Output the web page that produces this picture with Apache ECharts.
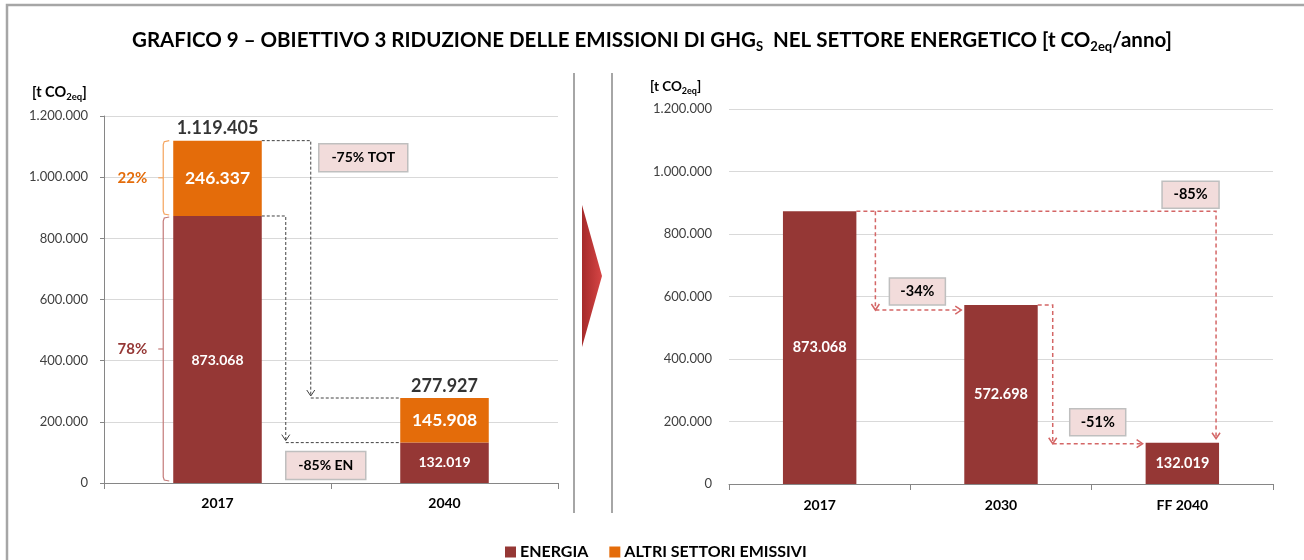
<!DOCTYPE html>
<html><head><meta charset="utf-8">
<script src="https://cdn.jsdelivr.net/npm/echarts@6/dist/echarts.min.js"></script>
<style>html,body{margin:0;padding:0;background:#fff}#c{width:1304px;height:560px}</style>
</head><body><div id="c"></div>
<script>
// ---- data ----
const leftCategories = ['2017', '2040'];
const leftEnergia = [873068, 132019];
const leftAltri = [246337, 145908];
const leftTotals = [1119405, 277927];
const leftShares = ['78%', '22%'];
const leftReductions = ['-75% TOT', '-85% EN'];
const rightCategories = ['2017', '2030', 'FF 2040'];
const rightEnergia = [873068, 572698, 132019];
const rightReductions = ['-34%', '-51%', '-85%'];
const yMin = 0, yMax = 1200000, yStep = 200000;
const legendNames = ['ENERGIA', 'ALTRI SETTORI EMISSIVI'];

const F = "Lato, 'Open Sans', sans-serif";
const C_EN = '#953735', C_AL = '#E46C0A';
const fmt = v => String(v).replace(/\B(?=(\d{3})+(?!\d))/g, '.');

const chart = echarts.init(document.getElementById('c'));
const subRich = {
  m: { fontFamily: F, fontWeight: 'bold', fontSize: 20.5, color: '#000', lineHeight: 26, verticalAlign: 'middle' },
  s: { fontFamily: F, fontWeight: 'bold', fontSize: 13, color: '#000', lineHeight: 13, verticalAlign: 'bottom' }
};
const unitRich = (a, b) => ({
  m: { fontFamily: F, fontWeight: 'bold', fontSize: a, color: '#000', lineHeight: a + 4, verticalAlign: 'middle' },
  s: { fontFamily: F, fontWeight: 'bold', fontSize: b, color: '#000', lineHeight: b, verticalAlign: 'bottom' }
});

const yAxisBase = {
  type: 'value', min: yMin, max: yMax, interval: yStep,
  axisLabel: { formatter: fmt, color: '#404040', fontSize: 13, fontFamily: F },
  splitLine: { lineStyle: { color: '#d9d9d9' } }
};
const xAxisBase = {
  type: 'category',
  axisLine: { lineStyle: { color: '#868686' } },
  axisTick: { show: true, length: 6, lineStyle: { color: '#868686' } },
  axisLabel: { color: '#000', fontWeight: 'bold', fontSize: 14, fontFamily: F, margin: 13 }
};

chart.setOption({
  animation: false,
  title: {
    text: '{m|GRAFICO 9 – OBIETTIVO 3 RIDUZIONE DELLE EMISSIONI DI GHG}{s|S}{m|  NEL SETTORE ENERGETICO [t CO}{s|2eq}{m|/anno]}',
    left: 'center', top: 22, textStyle: { rich: subRich }
  },
  legend: {
    data: legendNames, left: 500, top: 539, icon: 'rect', itemWidth: 11, itemHeight: 11, itemGap: 21,
    textStyle: { fontFamily: F, fontWeight: 'bold', fontSize: 16, color: '#000', padding: [0, 0, 0, -1] }
  },
  grid: [
    { left: 104, right: 746, top: 116, bottom: 77 },
    { left: 729, right: 31, top: 109, bottom: 76 }
  ],
  xAxis: [
    Object.assign({}, xAxisBase, { gridIndex: 0, data: leftCategories }),
    Object.assign({}, xAxisBase, { gridIndex: 1, data: rightCategories, axisLabel: Object.assign({}, xAxisBase.axisLabel, { margin: 14 }) })
  ],
  yAxis: [
    Object.assign({}, yAxisBase, { gridIndex: 0, axisLine: { show: true, lineStyle: { color: '#868686' } },
      axisTick: { show: true, length: 4, lineStyle: { color: '#868686' } },
      axisLabel: Object.assign({}, yAxisBase.axisLabel, { margin: 16 }) }),
    Object.assign({}, yAxisBase, { gridIndex: 1, axisLine: { show: false }, axisTick: { show: false },
      axisLabel: Object.assign({}, yAxisBase.axisLabel, { margin: 17 }) })
  ],
  series: [
    { name: 'ENERGIA', type: 'bar', xAxisIndex: 0, yAxisIndex: 0, stack: 'L', barWidth: '39%',
      itemStyle: { color: C_EN },
      data: leftEnergia.map((v, i) => i === 0 ? { value: v, label: { offset: [0, 11] } } : v),
      label: { show: true, position: 'inside', color: '#fff', fontWeight: 'bold', fontSize: 14, fontFamily: F, formatter: p => fmt(p.value) } },
    { name: 'ALTRI SETTORI EMISSIVI', type: 'bar', xAxisIndex: 0, yAxisIndex: 0, stack: 'L', barWidth: '39%',
      itemStyle: { color: C_AL }, data: leftAltri,
      label: { show: true, position: 'inside', color: '#fff', fontWeight: 'bold', fontSize: 17.5, fontFamily: F, formatter: p => fmt(p.value) } },
    { name: 'tot', type: 'scatter', xAxisIndex: 0, yAxisIndex: 0, symbolSize: 0, silent: true, data: leftTotals,
      label: { show: true, position: 'top', distance: 3, color: '#000', fontWeight: 'bold', fontSize: 18, fontFamily: F, formatter: p => fmt(p.value) } },
    { name: 'ENERGIA', type: 'bar', xAxisIndex: 1, yAxisIndex: 1, barWidth: '40.5%',
      itemStyle: { color: C_EN }, data: rightEnergia,
      label: { show: true, position: 'inside', color: '#fff', fontWeight: 'bold', fontSize: 14.5, fontFamily: F, formatter: p => fmt(p.value) } }
  ]
});

// ---- annotations from axis conversions ----
const pL = (i, v) => chart.convertToPixel({ xAxisIndex: 0, yAxisIndex: 0 }, [i, v]);
const pR = (i, v) => chart.convertToPixel({ xAxisIndex: 1, yAxisIndex: 1 }, [i, v]);
const g = [];
const line = (pts, stroke, w, dash) => g.push({ type: 'polyline', silent: true, shape: { points: pts },
  style: { stroke: stroke, lineWidth: w, lineDash: dash || null, fill: null } });
const arrowDown = (x, y, c, w) => line([[x - 4, y - 6], [x, y], [x + 4, y - 6]], c, w);
const arrowRight = (x, y, c, w) => line([[x - 6, y - 4], [x, y], [x - 6, y + 4]], c, w);
const box = (x, y, w, h, t, fs) => {
  g.push({ type: 'rect', silent: true, shape: { x: x, y: y, width: w, height: h }, style: { fill: '#f2dcdb', stroke: '#bfbfbf', lineWidth: 1.5 } });
  g.push({ type: 'text', silent: true, x: x + w / 2, y: y + h / 2, style: { text: t, fill: '#000', font: 'bold ' + fs + 'px ' + F, align: 'center', verticalAlign: 'middle' } });
};

// frame, separators, arrow
g.push({ type: 'polyline', silent: true, shape: { points: [[7, 600], [7, 5], [1320, 5]] }, style: { stroke: '#a6a6a6', lineWidth: 2.5, fill: null } });
line([[574, 73], [574, 513]], '#a6a6a6', 2);
line([[612, 73], [612, 513]], '#a6a6a6', 2);
g.push({ type: 'polygon', silent: true, shape: { points: [[582, 205], [602, 276], [582, 347]] },
  style: { fill: new echarts.graphic.LinearGradient(0, 0, 1, 0, [{ offset: 0, color: '#a52a2a' }, { offset: 1, color: '#d64545' }]) } });

// unit labels
g.push({ type: 'text', silent: true, x: 32, y: 83, style: { text: '{m|[t CO}{s|2eq}{m|]}', rich: unitRich(14.5, 9.5) } });
g.push({ type: 'text', silent: true, x: 650, y: 78, style: { text: '{m|[t CO}{s|2eq}{m|]}', rich: unitRich(13.5, 9) } });

// left chart
{
  const [x0, yTot0] = pL(0, leftTotals[0]);
  const [x1, yTot1] = pL(1, leftTotals[1]);
  const yEn0 = pL(0, leftEnergia[0])[1], yEn1 = pL(1, leftEnergia[1])[1], yZero = pL(0, 0)[1];
  const hw = (x1 - x0) * 0.39 / 2;
  const xb0 = x0 + hw, xL1 = x1 - hw;
  const vTot = xb0 + 49, vEn = xb0 + 24;
  const K = '#404040';
  line([[xb0, yTot0], [vTot, yTot0], [vTot, yTot1 - 2]], K, 1, [3, 2]);
  arrowDown(vTot, yTot1 - 2, K, 1);
  line([[vTot, yTot1], [xL1, yTot1]], K, 1, [3, 2]);
  line([[xb0, yEn0], [vEn, yEn0], [vEn, yEn1 - 2]], K, 1, [3, 2]);
  arrowDown(vEn, yEn1 - 2, K, 1);
  line([[vEn, yEn1], [xL1, yEn1]], K, 1, [3, 2]);
  box(vTot + 8, yTot0 + 3, 89, 28, leftReductions[0], 14);
  box(vEn, yEn1 + 9, 80, 28, leftReductions[1], 14);
  // braces
  const bx = x0 - hw - 10;
  const brace = (yt, yb, c) => {
    line([[bx + 6, yt], [bx + 1, yt + 1], [bx, yt + 4], [bx, yb - 4], [bx + 1, yb - 1], [bx + 6, yb]], c, 1.2);
    line([[bx, (yt + yb) / 2], [bx - 5, (yt + yb) / 2]], c, 1.2);
  };
  brace(yTot0, yEn0 - 1, '#f5a35c');
  brace(yEn0 + 1, yZero - 2, '#c47a78');
  g.push({ type: 'text', silent: true, x: bx - 16, y: (yTot0 + yEn0) / 2, style: { text: leftShares[1], fill: C_AL, font: 'bold 15px ' + F, align: 'right', verticalAlign: 'middle' } });
  g.push({ type: 'text', silent: true, x: bx - 16, y: (yEn0 + yZero) / 2, style: { text: leftShares[0], fill: C_EN, font: 'bold 15px ' + F, align: 'right', verticalAlign: 'middle' } });
}

// right chart
{
  const [x0, y0] = pR(0, rightEnergia[0]);
  const [x1, y1] = pR(1, rightEnergia[1]);
  const [x2, y2] = pR(2, rightEnergia[2]);
  const hw = (x1 - x0) * 0.405 / 2;
  const R = '#d46666', W = 1.5, D = [4, 3];
  const v85 = x2 + hw - 3;
  line([[x0 + hw, y0], [v85, y0], [v85, y2 - 4]], R, W, D);
  arrowDown(v85, y2 - 4, R, W);
  const v34 = x0 + hw + 19, h34 = y1 + 5;
  line([[v34, y0], [v34, h34]], R, W, D);
  arrowDown(v34, h34, R, W);
  line([[v34, h34], [x1 - hw - 3, h34]], R, W, D);
  arrowRight(x1 - hw - 3, h34, R, W);
  const v51 = x1 + hw + 15, h51 = y2 + 1;
  line([[x1 + hw, y1], [v51, y1], [v51, h51]], R, W, D);
  arrowDown(v51, h51, R, W);
  line([[v51, h51], [x2 - hw - 3, h51]], R, W, D);
  arrowRight(x2 - hw - 3, h51, R, W);
  box(v34 + 14, y1 - 27, 56, 27, rightReductions[0], 14.5);
  box(v51 + 17, y2 - 34, 56, 27, rightReductions[1], 14.5);
  box(v85 - 54, y0 - 30, 57, 27, rightReductions[2], 14.5);
}
chart.setOption({ graphic: g });
</script></body></html>
